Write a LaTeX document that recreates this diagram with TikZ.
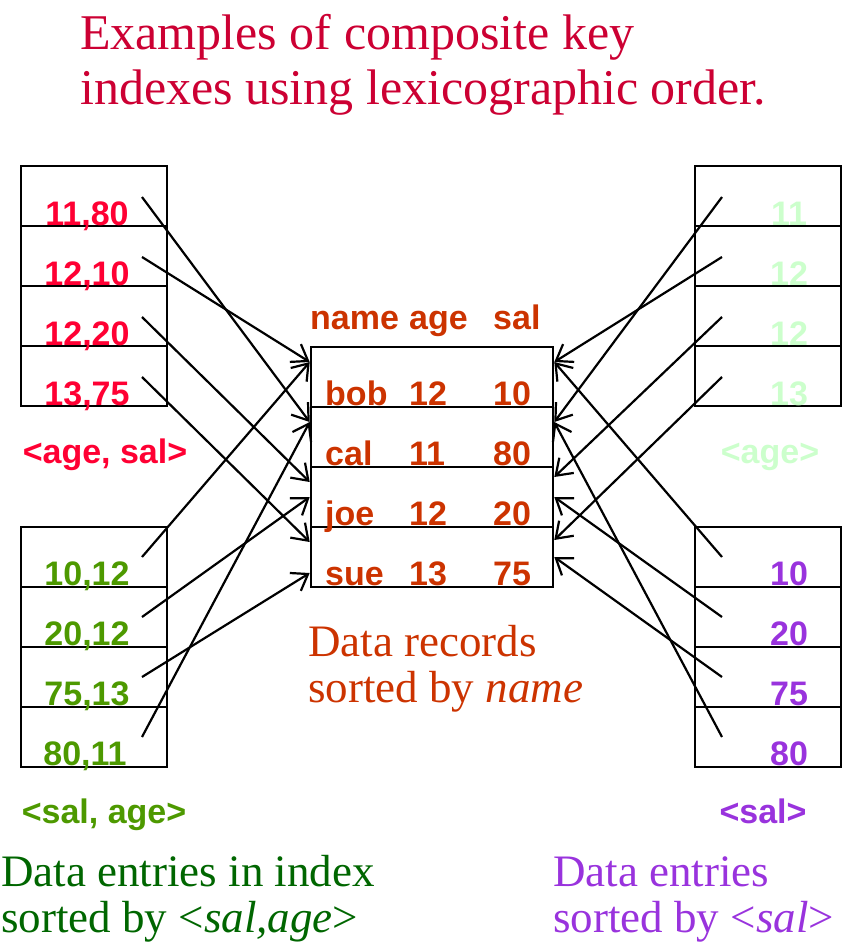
\documentclass[tikz,border=0pt]{standalone}
\usepackage{fontspec}
\setmainfont{Liberation Serif}
\setsansfont{Liberation Sans}
\usetikzlibrary{arrows.meta,calc}
\definecolor{titlered}{RGB}{204,0,51}
\definecolor{keyred}{RGB}{255,0,51}
\definecolor{recbrown}{RGB}{204,51,0}
\definecolor{agegreen}{RGB}{204,255,204}
\definecolor{salgreen}{RGB}{77,153,0}
\definecolor{darkgreen}{RGB}{0,102,0}
\definecolor{salpurple}{RGB}{153,51,221}
\tikzset{
    cell/.style ={
        draw=black,
        line width=2.6pt,
        minimum width=146pt,
        minimum height=60pt,
        inner sep=0pt
    },
    rec/.style ={
        cell,
        minimum width=242pt
    },
    key/.style ={
        font=\fontsize{34}{40}\selectfont\sffamily\bfseries,
        anchor=base,
        inner sep=0pt
    },
    note/.style ={
        font=\fontsize{45}{50}\selectfont,
        anchor=base west,
        inner sep=0pt
    },
    ptr/.style ={
        -{Straight Barb[length=15pt,width=21pt,line width=2.2pt]},
        line width=2.2pt
    }
}

\begin{document}
\begin{tikzpicture}[x=1pt,y=-1pt]
    \useasboundingbox (0,0) rectangle (862,950);
    % title
    \node[note,font=\fontsize{50}{55}\selectfont,text=titlered] (title1) at (80,49) {Examples of composite key};
    \node[note,font=\fontsize{50}{55}\selectfont,text=titlered] (title2) at (80,104) {indexes using lexicographic order.};

    % index <age, sal>
    \node[cell] (as1) at (94,196) {};
    \node[cell] (as2) at (94,256) {};
    \node[cell] (as3) at (94,316) {};
    \node[cell] (as4) at (94,376) {};
    \node[key,text=keyred] (as1t) at (87,225) {11,80};
    \node[key,text=keyred] (as2t) at (87,285) {12,10};
    \node[key,text=keyred] (as3t) at (87,345) {12,20};
    \node[key,text=keyred] (as4t) at (87,405) {13,75};
    \node[key,text=keyred] (aslab) at (105,463) {<age, sal>};

    % index <sal, age>
    \node[cell] (sa1) at (94,557) {};
    \node[cell] (sa2) at (94,617) {};
    \node[cell] (sa3) at (94,677) {};
    \node[cell] (sa4) at (94,737) {};
    \node[key,text=salgreen] (sa1t) at (87,585) {10,12};
    \node[key,text=salgreen] (sa2t) at (87,645) {20,12};
    \node[key,text=salgreen] (sa3t) at (87,705) {75,13};
    \node[key,text=salgreen] (sa4t) at (85,765) {80,11};
    \node[key,text=salgreen] (salab) at (104,823) {<sal, age>};

    % index <age>
    \node[cell] (ag1) at (768,196) {};
    \node[cell] (ag2) at (768,256) {};
    \node[cell] (ag3) at (768,316) {};
    \node[cell] (ag4) at (768,376) {};
    \node[key,text=agegreen] (ag1t) at (789,225) {11};
    \node[key,text=agegreen] (ag2t) at (789,285) {12};
    \node[key,text=agegreen] (ag3t) at (789,345) {12};
    \node[key,text=agegreen] (ag4t) at (789,405) {13};
    \node[key,text=agegreen] (aglab) at (770,463) {<age>};

    % index <sal>
    \node[cell] (sl1) at (768,557) {};
    \node[cell] (sl2) at (768,617) {};
    \node[cell] (sl3) at (768,677) {};
    \node[cell] (sl4) at (768,737) {};
    \node[key,text=salpurple] (sl1t) at (789,585) {10};
    \node[key,text=salpurple] (sl2t) at (789,645) {20};
    \node[key,text=salpurple] (sl3t) at (789,705) {75};
    \node[key,text=salpurple] (sl4t) at (789,765) {80};
    \node[key,text=salpurple] (sllab) at (763,823) {<sal>};

    % data records
    \node[rec] (bob) at (432,377) {};
    \node[rec] (cal) at (432,437) {};
    \node[rec] (joe) at (432,497) {};
    \node[rec] (sue) at (432,557) {};
    \node[key,anchor=base west,text=recbrown] (hname) at (310,329) {name};
    \node[key,anchor=base west,text=recbrown] (hage) at (409,329) {age};
    \node[key,anchor=base west,text=recbrown] (hsal) at (493,329) {sal};
    \node[key,anchor=base west,text=recbrown] (bobn) at (325,405) {bob};
    \node[key,anchor=base west,text=recbrown] (boba) at (409,405) {12};
    \node[key,anchor=base west,text=recbrown] (bobs) at (493,405) {10};
    \node[key,anchor=base west,text=recbrown] (caln) at (325,465) {cal};
    \node[key,anchor=base west,text=recbrown] (cala) at (409,465) {11};
    \node[key,anchor=base west,text=recbrown] (cals) at (493,465) {80};
    \node[key,anchor=base west,text=recbrown] (joen) at (325,525) {joe};
    \node[key,anchor=base west,text=recbrown] (joea) at (409,525) {12};
    \node[key,anchor=base west,text=recbrown] (joes) at (493,525) {20};
    \node[key,anchor=base west,text=recbrown] (suen) at (325,585) {sue};
    \node[key,anchor=base west,text=recbrown] (suea) at (409,585) {13};
    \node[key,anchor=base west,text=recbrown] (sues) at (493,585) {75};

    % captions
    \node[note,text=recbrown] (recnote1) at (308,656) {Data records};
    \node[note,text=recbrown] (recnote2) at (308,702) {sorted by \textit{name}};
    \node[note,text=darkgreen] (sanote1) at (1,886) {Data entries in index};
    \node[note,text=darkgreen] (sanote2) at (1,932) {sorted by <\textit{sal,age}>};
    \node[note,text=salpurple] (slnote1) at (553,886) {Data entries};
    \node[note,text=salpurple] (slnote2) at (553,932) {sorted by <\textit{sal}>};

    % pointer starts
    \coordinate (as1p) at (142,197);
    \coordinate (as2p) at (142,257);
    \coordinate (as3p) at (142,317);
    \coordinate (as4p) at (142,377);
    \coordinate (sa1p) at (142,557);
    \coordinate (sa2p) at (142,617);
    \coordinate (sa3p) at (142,677);
    \coordinate (sa4p) at (142,737);
    \coordinate (ag1p) at (722,197);
    \coordinate (ag2p) at (722,257);
    \coordinate (ag3p) at (722,317);
    \coordinate (ag4p) at (722,377);
    \coordinate (sl1p) at (722,557);
    \coordinate (sl2p) at (722,617);
    \coordinate (sl3p) at (722,677);
    \coordinate (sl4p) at (722,737);

    % pointers into the records
    \draw[ptr] (as1p) -- ($(cal.west)+(0,-15)$);
    \draw[ptr] (as2p) -- ($(bob.west)+(0,-15)$);
    \draw[ptr] (as3p) -- ($(joe.west)+(0,-15)$);
    \draw[ptr] (as4p) -- ($(sue.west)+(0,-15)$);
    \draw[ptr] (sa1p) -- ($(bob.west)+(0,-15)$);
    \draw[ptr] (sa2p) -- (joe.west);
    \draw[ptr] (sa3p) -- ($(sue.west)+(0,16)$);
    \draw[ptr] (sa4p) -- ($(cal.west)+(0,-15)$);
    \draw[ptr] (ag1p) -- ($(cal.east)+(0,-15)$);
    \draw[ptr] (ag2p) -- ($(bob.east)+(0,-15)$);
    \draw[ptr] (ag3p) -- ($(joe.east)+(0,-20)$);
    \draw[ptr] (ag4p) -- ($(sue.east)+(0,-17)$);
    \draw[ptr] (sl1p) -- ($(bob.east)+(0,-15)$);
    \draw[ptr] (sl2p) -- (joe.east);
    \draw[ptr] (sl3p) -- (sue.east);
    \draw[ptr] (sl4p) -- ($(cal.east)+(0,-15)$);
\end{tikzpicture}
\end{document}
